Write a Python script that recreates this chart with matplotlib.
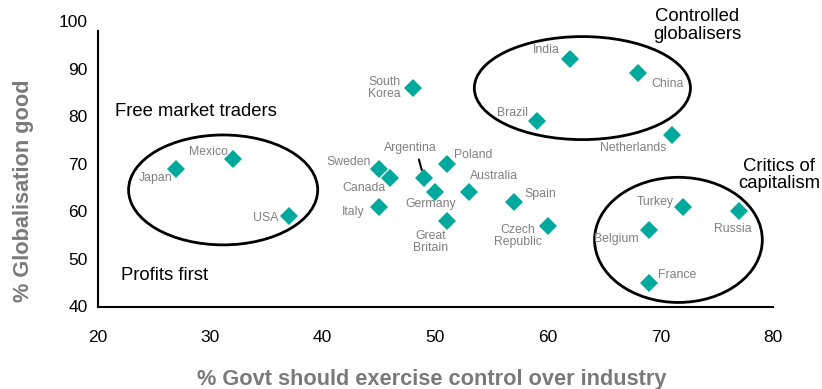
import matplotlib
matplotlib.use("Agg")
import matplotlib.pyplot as plt
from matplotlib.patches import Ellipse

plt.rcParams['font.family'] = ['Liberation Sans', 'DejaVu Sans']

# Survey results by country
countries = ["Japan", "Mexico", "USA", "South\nKorea", "Brazil", "India", "China",
             "Netherlands", "Argentina", "Sweden", "Canada", "Poland", "Germany",
             "Australia", "Italy", "Great\nBritain", "Spain", "Czech\nRepublic",
             "Turkey", "Russia", "Belgium", "France"]
govt_control = [27, 32, 37, 48, 59, 62, 68, 71, 49, 45, 46, 51, 50, 53, 45, 51, 57, 60,
                72, 77, 69, 69]
globalisation_good = [69, 71, 59, 86, 79, 92, 89, 76, 67, 69, 67, 70, 64, 64, 61, 58, 62,
                      57, 61, 60, 56, 45]

x_ticks = [20, 30, 40, 50, 60, 70, 80]
y_ticks = [40, 50, 60, 70, 80, 90, 100]

# label placement: (horizontal alignment, dx px, dy px; dy positive = downward)
label_place = {
    "Japan": ("right", -4, 9), "Mexico": ("right", -5, -7), "USA": ("right", -11, 2),
    "South\nKorea": ("right", -12, 0), "Brazil": ("right", -9, -8),
    "India": ("right", -11, -9), "China": ("left", 13, 11),
    "Netherlands": ("right", -5, 13), "Argentina": ("center", -14, -30),
    "Sweden": ("right", -8, -7), "Canada": ("right", -5, 10),
    "Poland": ("left", 7, -9), "Germany": ("center", -5, 12),
    "Australia": ("left", 1, -16), "Italy": ("right", -14, 5),
    "Great\nBritain": ("center", -16, 21), "Spain": ("left", 10, -8),
    "Czech\nRepublic": ("right", -6, 10), "Turkey": ("right", -9, -5),
    "Russia": ("center", -6, 18), "Belgium": ("right", -10, 9),
    "France": ("left", 9, -8),
}

DPI = 100
PX = 72.0 / DPI  # points per pixel

fig = plt.figure(figsize=(8.22, 3.89), dpi=DPI)
ax = fig.add_axes([97.5 / 822, 1 - 306.5 / 389, (773 - 97.5) / 822, (306.5 - 21) / 389])

ax.plot(govt_control, globalisation_good, linestyle="none", marker="D",
        markersize=9.2, color="#00a99d", markeredgewidth=0, zorder=3)

label_color = "#808080"
for name, x, y in zip(countries, govt_control, globalisation_good):
    ha, dx, dy = label_place[name]
    kw = {}
    if name == "Argentina":
        kw["arrowprops"] = dict(arrowstyle="-", color="black", lw=1.5,
                                relpos=(0.64, 0.0), shrinkA=2, shrinkB=6)
    ax.annotate(name, xy=(x, y), xytext=(dx * PX, -dy * PX), textcoords="offset points",
                ha=ha, va="center", multialignment="center", fontsize=8.8,
                color=label_color, linespacing=1.0, **kw)

# group outlines
groups = [((31.16, 64.5), 16.8, 23.1), ((63.07, 85.9), 19.2, 21.65),
          ((71.6, 54.0), 14.9, 26.3)]
for center, w, h in groups:
    ax.add_patch(Ellipse(center, w, h, fill=False, edgecolor="black", lw=2.0,
                         clip_on=False, zorder=2))

group_text = dict(fontsize=13.3, color="black", ha="center", va="center",
                  linespacing=1.05, clip_on=False)
ax.text(28.75, 80.9, "Free market traders", **group_text)
ax.text(26.0, 46.6, "Profits first", **group_text)
ax.text(73.24, 99.0, "Controlled\nglobalisers", **group_text)
ax.text(80.52, 67.6, "Critics of\ncapitalism", **group_text)

ax.set_xlim(20, 80)
ax.set_ylim(40, 100)
ax.set_xticks(x_ticks)
ax.set_yticks(y_ticks)
ax.tick_params(axis="both", length=0, labelsize=12.5, colors="black")
ax.tick_params(axis="y", pad=7)
ax.tick_params(axis="x", pad=17)
for side in ("top", "right"):
    ax.spines[side].set_visible(False)
for side in ("left", "bottom"):
    ax.spines[side].set_linewidth(1.5)
ax.spines["left"].set_bounds(40, 98)

fig.text(432 / 822, 1 - 380 / 389, "% Govt should exercise control over industry",
         ha="center", va="center", fontsize=15.7, fontweight="bold", color="#7a7a7a")
fig.text(23 / 822, 1 - 191 / 389, "% Globalisation good", rotation=90,
         ha="center", va="center", fontsize=15.7, fontweight="bold", color="#7a7a7a")

fig.savefig("out.png", dpi=DPI)
